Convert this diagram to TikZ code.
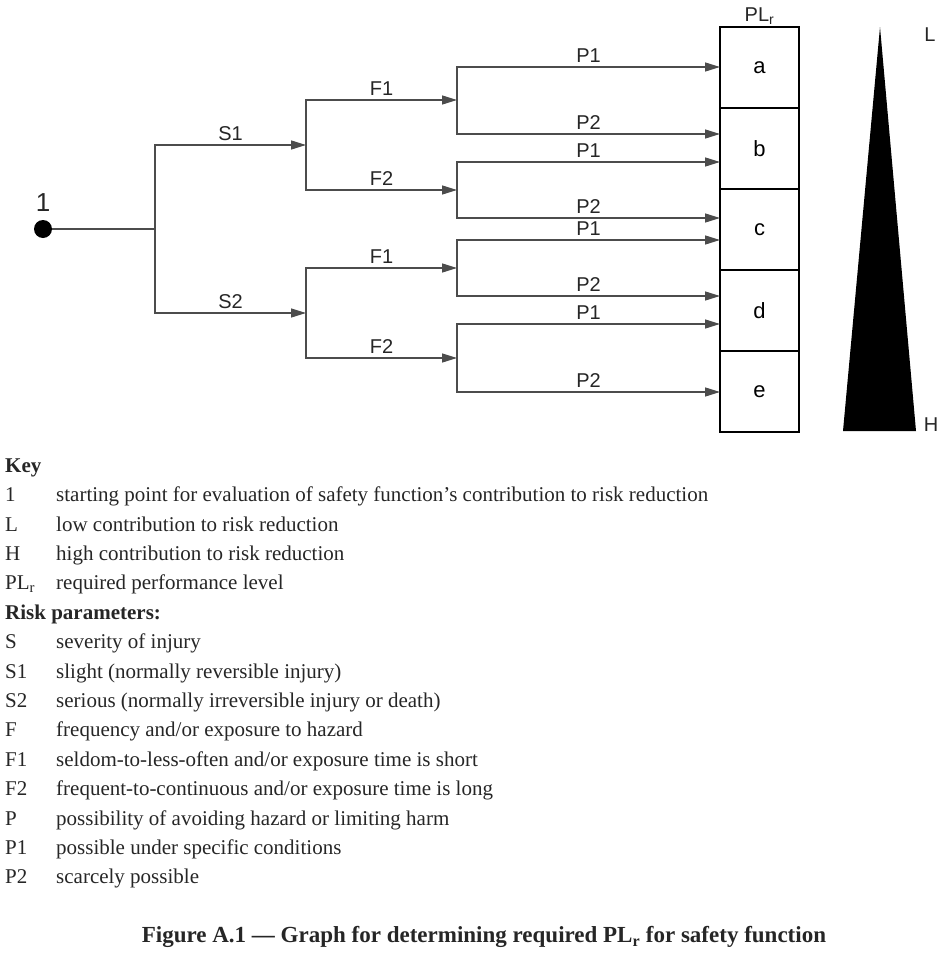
\documentclass[tikz,border=0pt]{standalone}
\usepackage{fontspec}
\setmainfont{Liberation Serif}
\newfontfamily\diagfont{Liberation Sans}
\newfontfamily\keyfont{Liberation Serif}
\usetikzlibrary{arrows.meta,positioning}

\tikzset{
  link/.style={draw=black!70, line width=1.4pt},
  flow/.style={link, -{Triangle[length=15pt,width=9pt]}},
  lbl/.style={font=\diagfont\fontsize{20}{20}\selectfont, text=black!85, inner sep=1pt},
  plbox/.style={draw, line width=1.7pt, minimum width=79pt, minimum height=81pt,
    outer sep=0pt, font=\diagfont\fontsize{22}{22}\selectfont},
  keyitem/.style={anchor=west, inner sep=0pt, text height=0.7em, text depth=0.25em,
    font=\keyfont\fontsize{21}{21}\selectfont, text=black!85},
}

\begin{document}
\begin{tikzpicture}[x=1pt,y=-1pt]
  \useasboundingbox (0,0) rectangle (949,964);

  % starting point and severity
  \node[circle, fill=black, minimum size=18pt, inner sep=0pt] (start) at (43,229) {};
  \node[lbl, font=\diagfont\fontsize{26}{26}\selectfont] (one) at (43,203) {1};
  \coordinate (sj) at (155,229);
  \coordinate (s1) at (306,145);
  \coordinate (s2) at (306,313);
  \draw[link] (start) -- (sj);
  \draw[flow] (sj) |- (s1) node[lbl, pos=0.75, above=3pt] {S1};
  \draw[flow] (sj) |- (s2) node[lbl, pos=0.75, above=3pt] {S2};

  % frequency
  \coordinate (f11) at (457,100);
  \coordinate (f12) at (457,190);
  \coordinate (f21) at (457,268);
  \coordinate (f22) at (457,358);
  \draw[flow] (s1) |- (f11) node[lbl, pos=0.75, above=3pt] {F1};
  \draw[flow] (s1) |- (f12) node[lbl, pos=0.75, above=3pt] {F2};
  \draw[flow] (s2) |- (f21) node[lbl, pos=0.75, above=3pt] {F1};
  \draw[flow] (s2) |- (f22) node[lbl, pos=0.75, above=3pt] {F2};

  % PLr column
  \node[plbox] (pla) at (759.5,67.5) {a};
  \node[plbox, below=0pt of pla] (plb) {b};
  \node[plbox, below=0pt of plb] (plc) {c};
  \node[plbox, below=0pt of plc] (pld) {d};
  \node[plbox, below=0pt of pld] (ple) {e};
  \node[lbl, above=1pt of pla] (plr) {PL\textsubscript{r}};

  % possibility of avoiding
  \foreach \f/\ya/\yb in {f11/67/134, f12/162/218, f21/240/296, f22/324/392} {
    \coordinate (\f-p1) at (720,\ya);
    \coordinate (\f-p2) at (720,\yb);
    \draw[flow] (\f) |- (\f-p1) node[lbl, pos=0.75, above=3pt] {P1};
    \draw[flow] (\f) |- (\f-p2) node[lbl, pos=0.75, above=3pt] {P2};
  }

  % contribution wedge
  \fill[black] (880,27) -- (916,431) -- (843,431) -- cycle;
  \node[lbl] (low) at (930,35) {L};
  \node[lbl] (high) at (931,425) {H};

  % key
  \node[keyitem, font=\keyfont\bfseries\fontsize{21}{21}\selectfont] (key) at (5,470) {Key};
  \foreach \k/\t [count=\i] in {1/{starting point for evaluation of safety function’s contribution to risk reduction},
      L/{low contribution to risk reduction}, H/{high contribution to risk reduction},
      {PL\textsubscript{r}}/{required performance level}} {
    \node[keyitem] (key-\i) at (5,470+29.4*\i) {\k};
    \node[keyitem] (desc-\i) at (56,470+29.4*\i) {\t};
  }
  \node[keyitem, font=\keyfont\bfseries\fontsize{21}{21}\selectfont] (risk) at (5,617) {Risk parameters:};
  \foreach \k/\t [count=\i] in {S/{severity of injury}, S1/{slight (normally reversible injury)},
      S2/{serious (normally irreversible injury or death)}, F/{frequency and/or exposure to hazard},
      F1/{seldom-to-less-often and/or exposure time is short},
      F2/{frequent-to-continuous and/or exposure time is long},
      P/{possibility of avoiding hazard or limiting harm}, P1/{possible under specific conditions},
      P2/{scarcely possible}} {
    \node[keyitem] (par-\i) at (5,617+29.4*\i) {\k};
    \node[keyitem] (pdesc-\i) at (56,617+29.4*\i) {\t};
  }

  \node[font=\keyfont\bfseries\fontsize{23}{23}\selectfont, text=black!85] (caption) at (484,937)
    {Figure A.1 — Graph for determining required PL\textsubscript{r} for safety function};
\end{tikzpicture}
\end{document}
